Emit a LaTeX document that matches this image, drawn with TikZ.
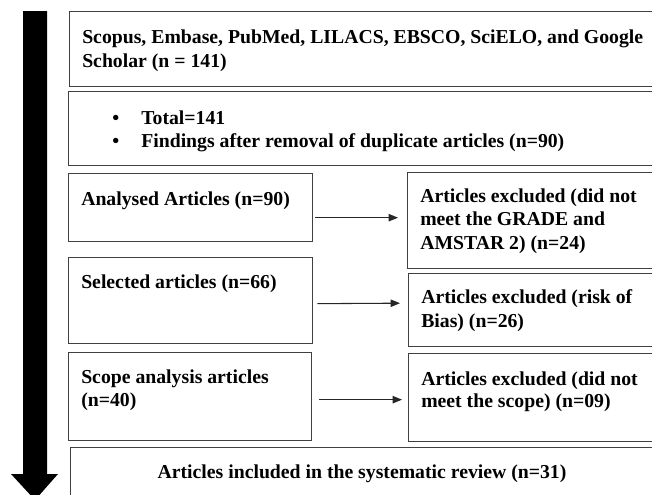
\documentclass[tikz,border=0pt]{standalone}
\usepackage{fontspec}
\setmainfont{Liberation Serif}
\usetikzlibrary{arrows.meta,calc}
\begin{document}
\begin{tikzpicture}[x=0.75pt,y=-0.75pt,
  box/.style={draw=black!75,line width=1pt,rectangle,inner sep=0pt,anchor=north west},
  txt/.style={inner sep=0pt,anchor=base west,font=\fontsize{14.8pt}{17.6pt}\selectfont\bfseries},
  conn/.style={line width=0.8pt,draw=black!85,-{Triangle[length=7pt,width=5.5pt]}}]
\useasboundingbox (0,0) rectangle (652,494);
\clip (0,0) rectangle (652,494);
\fill[white] (0,0) rectangle (652,494);
% big arrow
\fill[black] (23,11) -- (47,11) -- (47,474) -- (58,474) -- (35,500) -- (11,474) -- (23,474) -- cycle;
% boxes
\node[box,minimum width={600*0.75pt},minimum height={75*0.75pt}] (b1) at (69,11) {};
\node[box,minimum width={600*0.75pt},minimum height={74*0.75pt}] (b2) at (68,91) {};
\node[box,minimum width={244*0.75pt},minimum height={68*0.75pt}] (b3) at (68,173) {};
\node[box,minimum width={244*0.75pt},minimum height={86*0.75pt}] (b4) at (68,257) {};
\node[box,minimum width={243*0.75pt},minimum height={88*0.75pt}] (b5) at (68,352) {};
\node[box,minimum width={600*0.75pt},minimum height={80*0.75pt}] (b6) at (70,447) {};
\node[box,minimum width={260*0.75pt},minimum height={96*0.75pt}] (r1) at (407,172) {};
\node[box,minimum width={260*0.75pt},minimum height={73*0.75pt}] (r2) at (408,273) {};
\node[box,minimum width={260*0.75pt},minimum height={88*0.75pt}] (r3) at (408,353) {};
% texts
\node[txt] (t1a) at (82,43) {Scopus, Embase, PubMed, LILACS, EBSCO, SciELO, and Google};
\node[txt] (t1b) at (82,67) {Scholar (n = 141)};
\node[txt] (t2p) at (112,124) {\textbullet};
\node[txt] (t2a) at (141,124) {Total=141};
\node[txt] (t2q) at (112,147) {\textbullet};
\node[txt] (t2b) at (141,147) {Findings after removal of duplicate articles (n=90)};
\node[txt] (t3) at (81,205) {Analysed Articles (n=90)};
\node[txt] (t4) at (81,288) {Selected articles (n=66)};
\node[txt] (t5a) at (81,383) {Scope analysis articles};
\node[txt] (t5b) at (81,406) {(n=40)};
\node[txt,anchor=base] (t6) at (362,478) {Articles included in the systematic review (n=31)};
\node[txt] (r1a) at (420,202) {Articles excluded (did not};
\node[txt] (r1b) at (420,225) {meet the GRADE and};
\node[txt] (r1c) at (420,249) {AMSTAR 2) (n=24)};
\node[txt] (r2a) at (421,303) {Articles excluded (risk of};
\node[txt] (r2b) at (421,327) {Bias) (n=26)};
\node[txt] (r3a) at (421,385) {Articles excluded (did not};
\node[txt] (r3b) at (421,407) {meet the scope) (n=09)};
% connectors
\draw[conn] ([shift={(2,10)}]b3.east) -- ([shift={(-9,-3)}]r1.west);
\draw[conn] ([shift={(4,3)}]b4.east) -- ([shift={(-8,-7)}]r2.west);
\draw[conn] ([shift={(7,3)}]b5.east) -- ([shift={(-6,2)}]r3.west);
\end{tikzpicture}
\end{document}
